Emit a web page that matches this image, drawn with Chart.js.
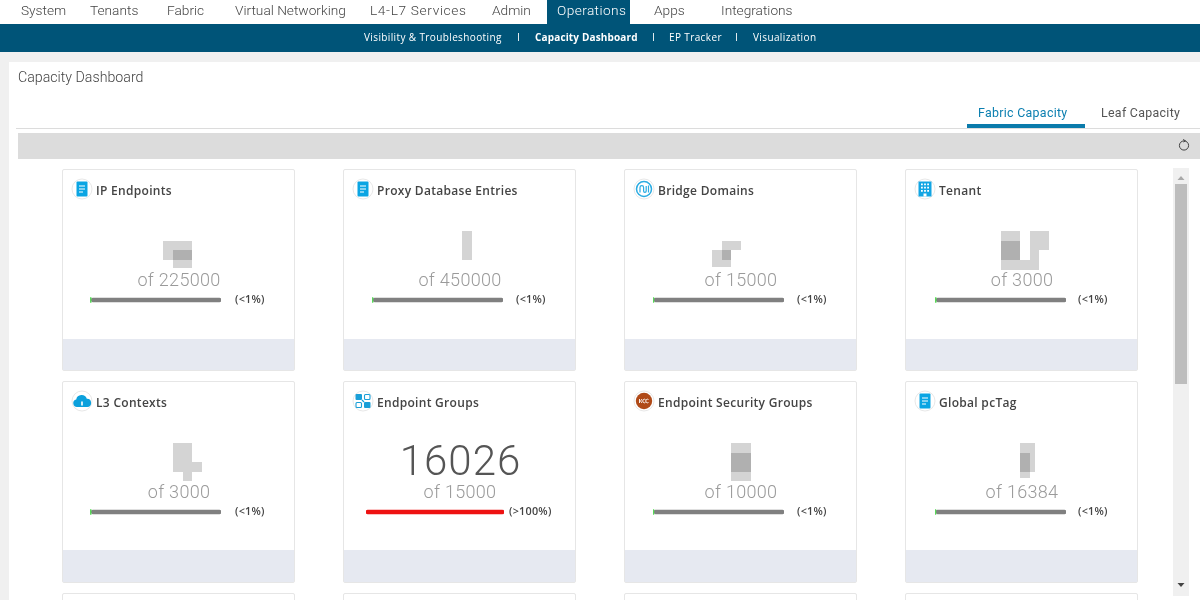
<!DOCTYPE html>
<html><head><meta charset="utf-8">
<script src="https://cdn.jsdelivr.net/npm/chart.js@4"></script>
<style>
html,body{margin:0;padding:0;width:1200px;height:600px;overflow:hidden;background:#f0f0f0;font-family:Roboto,"Liberation Sans",sans-serif}
#page{position:relative;width:1200px;height:600px;overflow:hidden;filter:blur(.3px)}
.box{position:absolute}
.t{position:absolute;white-space:nowrap;line-height:20px;height:20px;margin-top:-10px}
.c{transform:translateX(-50%)}
canvas{position:absolute;display:block}
.card{position:absolute;width:231.5px;height:200px;background:#fff;border:1.5px solid #e6e6e6;border-radius:2px;box-sizing:content-box}
.foot{position:absolute;left:0;right:0;bottom:0;background:#e6e9f1}
svg{position:absolute}
</style></head><body><div id="page"></div>
<script>
// ---- data ----
const cardTitles=["IP Endpoints","Proxy Database Entries","Bridge Domains","Tenant","L3 Contexts","Endpoint Groups","Endpoint Security Groups","Global pcTag"];
const capacities=[225000,450000,15000,3000,3000,15000,10000,16384];
const shownUsed=[null,null,null,null,null,16026,null,null];
const usedPercent=[0.9,0.8,0.7,0.9,0.9,100,0.7,0.7];
const percentLabels=["(<1%)","(<1%)","(<1%)","(<1%)","(<1%)","(>100%)","(<1%)","(<1%)"];
const navItems=["System","Tenants","Fabric","Virtual Networking","L4-L7 Services","Admin","Operations","Apps","Integrations"];
const subItems=["Visibility & Troubleshooting","Capacity Dashboard","EP Tracker","Visualization"];

// ---- layout ----
const page=document.getElementById('page');
function box(x,y,w,h,bg,parent){const d=document.createElement('div');d.className='box';d.style.cssText+=`left:${x}px;top:${y}px;width:${w}px;height:${h}px;background:${bg}`;(parent||page).appendChild(d);return d;}
function text(s,x,y,css,center){const d=document.createElement('div');d.className='t'+(center?' c':'');d.textContent=s;d.style.cssText+=`left:${x}px;top:${y}px;`+css;page.appendChild(d);return d;}

box(0,0,1200,24,'#fff');
box(547,0,83,24,'#005478');
box(0,24,1200,28,'#005478');
box(9,62,1191,538,'#fff');
const navX=[21,90,167,235,370,492,557,654,721];
const navSpacing=[0,0,0,0,.65,0,.4,0,0];
navItems.forEach((n,i)=>text(n,navX[i],10.4,`font-size:13.7px;font-weight:300;letter-spacing:${navSpacing[i]}px;color:${n==='Operations'?'#fff':'#444'}`));
const subX=[364,535,669,753];
subItems.forEach((n,i)=>text(n,subX[i],37,`font-family:'Open Sans';font-size:10px;letter-spacing:${i===1?.15:.38}px;color:#fff;font-weight:${i===1?700:500}`));
[518,653,736].forEach(x=>box(x,33,1,8,'#dfe9ee'));
text("Capacity Dashboard",18,77.4,"font-size:14.2px;font-weight:300;color:#444");
box(16,128,1184,1,'#dcdcdc');
text("Fabric Capacity",978,113,"font-size:12.4px;letter-spacing:.3px;color:#0b7fb0");
text("Leaf Capacity",1101,113,"font-size:12.4px;letter-spacing:.3px;color:#555");
box(967,124,118,4,'#0b7bab');
box(18,133,1182,26,'#dcdcdc');
// refresh icon
page.insertAdjacentHTML('beforeend','<svg style="left:1177px;top:138px" width="14" height="14" viewBox="0 0 14 14"><circle cx="7" cy="7.5" r="4.6" fill="none" stroke="#444" stroke-width="1"/><path d="M6 1.5 L8.5 2.8 L6.5 4" fill="none" stroke="#444" stroke-width="1"/></svg>');
// scrollbar
box(1173,168,16,428,'#f0f0f0');
box(1175,184,12,200,'#bdbdbd');
page.insertAdjacentHTML('beforeend','<svg style="left:1173px;top:168px" width="16" height="428"><path d="M8 8 L11.5 12 L4.500 12 Z" fill="#a8a8a8"/><path d="M4.500 415 L11.500 415 L8 419 Z" fill="#444"/></svg>');

const docIcon='<rect x="4.500" y="2.500" width="11" height="15" rx="1" fill="#0ba5e3"/><path d="M7 7h6M7 10h6M7 13h4" stroke="#fff" stroke-width="1"/>';
const icons=[
 docIcon,docIcon,
 '<circle cx="10" cy="10" r="7.500" fill="none" stroke="#29abe2" stroke-width="1.500"/><path d="M6 13.500V8.500a1.800 1.800 0 0 1 3.600 0V12a1.300 1.300 0 0 0 2.600 0V7M14.500 6.500V13.500" fill="none" stroke="#29abe2" stroke-width="1.200"/>',
 '<rect x="3.500" y="2.500" width="13" height="15" fill="#13a5e3"/><path d="M6 4.500h1.800v1.800H6zM9.100 4.500h1.800v1.800H9.100zM12.200 4.500h1.800v1.800h-1.800zM6 7.700h1.800v1.800H6zM9.100 7.700h1.800v1.800H9.100zM12.200 7.700h1.800v1.800h-1.800zM6 10.900h1.800v1.800H6zM9.100 10.900h1.800v1.800H9.100zM12.200 10.900h1.800v1.800h-1.800zM8.500 14.500h3v3h-3z" fill="#fff"/>',
 '<path d="M5 16a3.800 3.800 0 0 1-.8-7.500A5.500 5.500 0 0 1 14.800 7.800a4.100 4.100 0 0 1 .4 8.200Z" fill="#0ba0dc"/><path d="M10 14.500V10.500" stroke="#fff" stroke-width="1.600"/>',
 '<rect x="2.500" y="3" width="6.500" height="6" rx="1" fill="#1a9fd8"/><rect x="11" y="11" width="6.500" height="6" rx="1" fill="#1a9fd8"/><rect x="11.500" y="3.500" width="5.500" height="5" rx="1" fill="none" stroke="#1a9fd8" stroke-width="1.100"/><rect x="3" y="11.500" width="5.500" height="5" rx="1" fill="none" stroke="#1a9fd8" stroke-width="1.100"/><path d="M9 9l2 2" stroke="#1a9fd8" stroke-width="1.200"/>',
 '<circle cx="10" cy="10" r="8.200" fill="#b04a18"/><path d="M5.500 8v4M8 8l-1.500 2 1.500 2M11.500 8.500a1.800 1.800 0 1 0 0 3M14.500 8.500a1.800 1.800 0 1 0 0 3" fill="none" stroke="#fff" stroke-width=".9"/>',
 docIcon
];
const cardX=[62,343,624,905], rowY=[169,381], footH=[30.5,31.5];
const barX=[[90,372,653,935],[90,366,653,935]];
const barW=[[131,131,131,131],[131,138,131,131]];
const barY=[300,512];
const pctX=[[235,516,797,1078],[235,509,797,1078]];

function addChart(i,x,cy,w){
  const cv=document.createElement('canvas');
  cv.width=w;cv.height=12;cv.style.cssText=`left:${x}px;top:${cy-6}px;width:${w}px;height:12px`;
  page.appendChild(cv);
  const over=usedPercent[i]>=100;
  new Chart(cv,{type:'bar',
    data:{labels:[cardTitles[i]],datasets:[
      {label:'Used',data:[usedPercent[i]],backgroundColor:over?'#ee1212':'#58d858',barThickness:over?4:5,borderRadius:over?2:0,borderSkipped:false},
      {label:'Free',data:[100-usedPercent[i]],backgroundColor:'#808080',barThickness:3.600,borderRadius:2,borderSkipped:false}
    ]},
    options:{indexAxis:'y',responsive:false,animation:false,events:[],
      layout:{padding:0},
      scales:{x:{display:false,stacked:true,min:0,max:100},y:{display:false,stacked:true}},
      plugins:{legend:{display:false},tooltip:{enabled:false}}}});
}
cardTitles.forEach((title,i)=>{
  const r=i<4?0:1,c=i%4,x=cardX[c],y=rowY[r];
  const card=document.createElement('div');card.className='card';card.style.left=(x-.5)+'px';card.style.top=(y-.5)+'px';
  card.innerHTML=`<div class="foot" style="height:${footH[r]}px"></div>`;page.appendChild(card);
  page.insertAdjacentHTML('beforeend',`<svg style="left:${x+8.500}px;top:${y+9}px" width="22" height="22" viewBox="-1 -1 22 22"><circle cx="10" cy="10" r="10" fill="#fff" stroke="#e8e8e8"/>${icons[i]}</svg>`);
  text(title,x+34,y+22,"font-family:'Open Sans';font-weight:600;font-size:12px;letter-spacing:.3px;color:#444");
  if(shownUsed[i]!==null) text(String(shownUsed[i]),x+117.500,y+80,"font-size:42px;font-weight:300;line-height:20px;letter-spacing:1px;color:#555",true);
  text("of "+capacities[i],x+117,y+111,"font-size:18px;font-weight:300;letter-spacing:.3px;color:#9a9a9a",true);
  addChart(i,barX[r][c],barY[r],barW[r][c]);
  text(percentLabels[i],pctX[r][c],y+129.500,"font-family:'Open Sans';font-weight:600;font-size:10.800px;letter-spacing:.25px;color:#444");
});
// third row, clipped by the window
cardX.forEach(x=>{const card=document.createElement('div');card.className='card';card.style.left=(x-.5)+'px';card.style.top='592.5px';page.appendChild(card);});

// pixelated cover blocks over the hidden values
const covers=[[163.300,241,29,19],[173,250.300,19.300,17.400],[462,231,10,29],
 [721.700,241,19.300,9.300],[721.700,250.300,9.600,9.700],[712,250.300,19.300,16.400],
 [1001,231,19,29],[1001,241,19,19],[1001,260,38,10],[1030,231,19,19],[1030,250,9,10],
 [173,443,19.300,28.700],[192.300,462,9.700,9.700],[182.700,471.700,9.600,9.600],
 [731.300,443,19.400,38.300],[731.300,452.700,19.400,19],
 [1020,443,14.700,28.700],[1020,452.700,9.700,25]];
covers.forEach(b=>box(b[0],b[1],b[2],b[3],'rgba(0,0,0,.17)'));
</script></body></html>
